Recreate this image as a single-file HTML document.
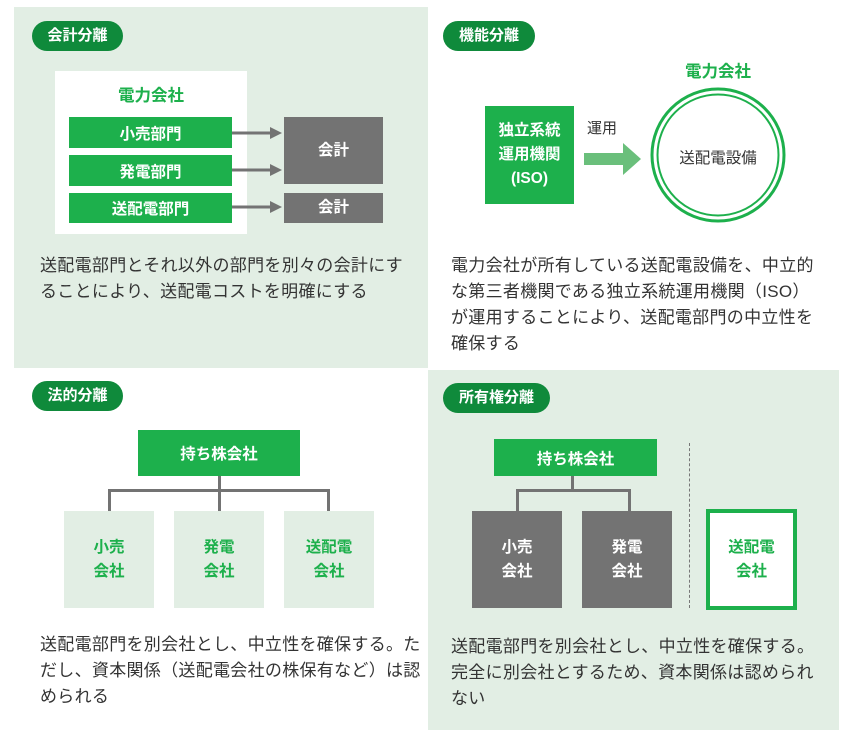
<!DOCTYPE html>
<html><head><meta charset="utf-8"><style>
*{margin:0;padding:0;box-sizing:border-box}
body{width:856px;height:744px;background:#fff;position:relative;overflow:hidden;font-family:"Liberation Sans","Noto Sans CJK JP",sans-serif;color:#333}
.a{position:absolute}
.bg{background:#e2eee4}
.badge{position:absolute;height:30px;border-radius:15px;background:#0f8a3b;color:#fff;font-weight:bold;font-size:15px;line-height:30px;text-align:center}
.g{background:#1db04c;color:#fff;font-weight:bold;font-size:15.5px;display:flex;align-items:center;justify-content:center;text-align:center}
.gr{background:#737373;color:#fff;font-weight:bold;font-size:15.5px;display:flex;align-items:center;justify-content:center;text-align:center;line-height:24px}
.lg{background:#e2eee4;color:#1db04c;font-weight:bold;font-size:15.5px;display:flex;align-items:center;justify-content:center;text-align:center;line-height:24px}
.t{position:absolute;font-size:17px;letter-spacing:0.3px;line-height:26px;color:#333;white-space:nowrap}
.ln{position:absolute;background:#737373}
</style></head><body>
<div class="a bg" style="left:14px;top:7px;width:414px;height:361px"></div>
<div class="a bg" style="left:428px;top:370px;width:411px;height:360px"></div>

<!-- TL -->
<div class="badge" style="left:32px;top:21px;width:91px">会計分離</div>
<div class="a" style="left:55px;top:71px;width:192px;height:163px;background:#fff"></div>
<div class="a" style="left:55px;top:82px;width:192px;text-align:center;color:#1db04c;font-weight:bold;font-size:16.5px">電力会社</div>
<div class="a g" style="left:69px;top:117px;width:163px;height:31px">小売部門</div>
<div class="a g" style="left:69px;top:155px;width:163px;height:31px">発電部門</div>
<div class="a g" style="left:69px;top:193px;width:163px;height:30px">送配電部門</div>
<div class="a gr" style="left:284px;top:117px;width:99px;height:67px">会計</div>
<div class="a gr" style="left:284px;top:193px;width:99px;height:30px">会計</div>
<svg class="a" style="left:0;top:0" width="428" height="240">
<g stroke="#737373" stroke-width="3" fill="#737373">
<line x1="232" y1="133" x2="272" y2="133"/><polygon points="270,127 282,133 270,139" stroke="none"/>
<line x1="232" y1="170" x2="272" y2="170"/><polygon points="270,164 282,170 270,176" stroke="none"/>
<line x1="232" y1="207" x2="272" y2="207"/><polygon points="270,201 282,207 270,213" stroke="none"/>
</g></svg>
<div class="t" style="left:40px;top:253px">送配電部門とそれ以外の部門を別々の会計にす<br>ることにより、送配電コストを明確にする</div>

<!-- TR -->
<div class="badge" style="left:443px;top:21px;width:92px">機能分離</div>
<div class="a g" style="left:485px;top:106px;width:89px;height:98px;line-height:24px">独立系統<br>運用機関<br>(ISO)</div>
<div class="a" style="left:587px;top:117px;font-size:15px">運用</div>
<svg class="a" style="left:580px;top:80px" width="230" height="150">
<rect x="4" y="73" width="42" height="12" fill="#6abf7b"/>
<polygon points="43,63 61,79 43,95" fill="#6abf7b"/>
<circle cx="138" cy="75" r="66" fill="none" stroke="#1db04c" stroke-width="3"/>
<circle cx="138" cy="75" r="60.5" fill="none" stroke="#1db04c" stroke-width="2"/>
</svg>
<div class="a" style="left:668px;top:58px;width:100px;text-align:center;color:#1db04c;font-weight:bold;font-size:16.5px">電力会社</div>
<div class="a" style="left:663px;top:146px;width:110px;text-align:center;font-size:15.5px">送配電設備</div>
<div class="t" style="left:451px;top:253px">電力会社が所有している送配電設備を、中立的<br>な第三者機関である独立系統運用機関（ISO）<br>が運用することにより、送配電部門の中立性を<br>確保する</div>

<!-- BL -->
<div class="badge" style="left:32px;top:381px;width:91px">法的分離</div>
<div class="a g" style="left:138px;top:430px;width:162px;height:46px">持ち株会社</div>
<div class="ln" style="left:218px;top:476px;width:3px;height:14px"></div>
<div class="ln" style="left:108px;top:489px;width:222px;height:3px"></div>
<div class="ln" style="left:108px;top:489px;width:3px;height:22px"></div>
<div class="ln" style="left:218px;top:489px;width:3px;height:22px"></div>
<div class="ln" style="left:327px;top:489px;width:3px;height:22px"></div>
<div class="a lg" style="left:64px;top:511px;width:90px;height:97px">小売<br>会社</div>
<div class="a lg" style="left:174px;top:511px;width:90px;height:97px">発電<br>会社</div>
<div class="a lg" style="left:284px;top:511px;width:90px;height:97px">送配電<br>会社</div>
<div class="t" style="left:40px;top:632px">送配電部門を別会社とし、中立性を確保する。た<br>だし、資本関係（送配電会社の株保有など）は認<br>められる</div>

<!-- BR -->
<div class="badge" style="left:443px;top:383px;width:107px">所有権分離</div>
<div class="a g" style="left:494px;top:439px;width:163px;height:37px">持ち株会社</div>
<div class="ln" style="left:571px;top:476px;width:3px;height:14px"></div>
<div class="ln" style="left:516px;top:489px;width:115px;height:3px"></div>
<div class="ln" style="left:516px;top:489px;width:3px;height:22px"></div>
<div class="ln" style="left:628px;top:489px;width:3px;height:22px"></div>
<div class="a gr" style="left:472px;top:511px;width:90px;height:97px">小売<br>会社</div>
<div class="a gr" style="left:582px;top:511px;width:90px;height:97px">発電<br>会社</div>
<div class="a" style="left:689px;top:443px;height:165px;border-left:1px dashed #777"></div>
<div class="a" style="left:706px;top:509px;width:91px;height:101px;border:4px solid #1db04c;background:#fff;color:#1db04c;font-weight:bold;font-size:15.5px;line-height:24px;display:flex;align-items:center;justify-content:center;text-align:center">送配電<br>会社</div>
<div class="t" style="left:451px;top:634px">送配電部門を別会社とし、中立性を確保する。<br>完全に別会社とするため、資本関係は認められ<br>ない</div>
</body></html>
